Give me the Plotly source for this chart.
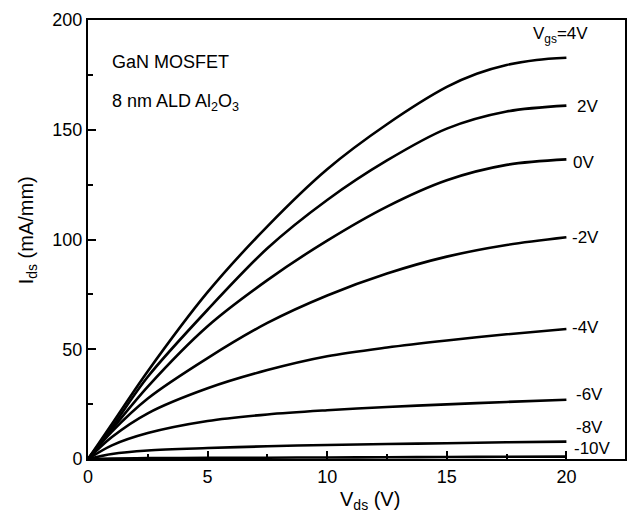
import plotly.graph_objects as go

vds = [0, 1, 2.5, 5, 7.5, 10, 12.5, 15, 17.5, 20]
vds_4 = [0, 1, 2.5, 5, 7.5, 10, 12.5, 15, 16.25, 17.5, 18.75, 20]
vgs_labels = ["4V", "2V", "0V", "-2V", "-4V", "-6V", "-8V", "-10V"]
ids_4 = [0, 16, 40, 76, 106, 132, 152.5, 169.5, 175.5, 179.5, 181.8, 182.8]
ids_2 = [0, 14.5, 37.5, 68, 96, 118, 136, 150.5, 158.3, 161]
ids_0 = [0, 13.5, 33, 60.5, 81.5, 99.5, 115, 127, 134, 136.5]
ids_m2 = [0, 12.5, 27.6, 46, 62, 74.5, 84.5, 92.2, 97.5, 101]
ids_m4 = [0, 10, 20.8, 32.2, 40.5, 46.8, 50.8, 54, 56.8, 59.2]
ids_m6 = [0, 6.2, 11.8, 17.3, 20.3, 22.2, 23.7, 24.9, 26, 27]
ids_m8 = [0, 2.3, 3.9, 5, 5.8, 6.4, 6.8, 7.2, 7.6, 7.9]
ids_m10 = [0, 0.2, 0.4, 0.5, 0.6, 0.7, 0.8, 0.9, 1.0, 1.1]
series = [(vds_4, ids_4), (vds, ids_2), (vds, ids_0), (vds, ids_m2), (vds, ids_m4),
          (vds, ids_m6), (vds, ids_m8), (vds, ids_m10)]

# label placement (data coords)
label_pos = [(18.54, 193.2), (20.35, 160.8), (20.2, 135.3), (20.15, 101), (20.17, 59.7),
             (20.3, 29.2), (20.3, 14.3), (20.25, 4.6)]

FONT = "Liberation Sans, Arial, sans-serif"
fig = go.Figure()
for xs, ys in series:
    fig.add_trace(go.Scatter(x=xs, y=ys, mode="lines",
                             line=dict(color="black", width=2.6, shape="spline", smoothing=0.9),
                             showlegend=False, hoverinfo="skip"))

for lab, (lx, ly) in zip(vgs_labels, label_pos):
    text = "V<sub>gs</sub>=" + lab if lab == "4V" else lab
    fig.add_annotation(x=lx, y=ly, text=text, xref="x", yref="y", xanchor="left",
                       yanchor="middle", showarrow=False, font=dict(family=FONT, size=17, color="black"))

fig.add_annotation(x=0.92, y=181, text="GaN MOSFET", xref="x", yref="y", xanchor="left",
                   yanchor="middle", showarrow=False, font=dict(family=FONT, size=18, color="black"))
fig.add_annotation(x=0.92, y=162.5, text="8 nm ALD Al<sub>2</sub>O<sub>3</sub>", xref="x", yref="y", xanchor="left",
                   yanchor="middle", showarrow=False, font=dict(family=FONT, size=18, color="black"))

# axis titles
fig.add_annotation(x=0.525, y=-0.0934, xref="paper", yref="paper", text="V<sub>ds</sub> (V)",
                   xanchor="center", yanchor="middle", showarrow=False,
                   font=dict(family=FONT, size=20, color="black"))
fig.add_annotation(x=-0.113, y=0.5216, xref="paper", yref="paper", text="I<sub>ds</sub> (mA/mm)",
                   textangle=-90, xanchor="center", yanchor="middle", showarrow=False,
                   font=dict(family=FONT, size=20, color="black"))

axis_common = dict(showline=True, linecolor="black", linewidth=2, mirror=True,
                   ticks="inside", tickcolor="black", tickwidth=1.5, ticklen=8,
                   showgrid=False, zeroline=False,
                   tickfont=dict(family=FONT, size=18, color="black"))
fig.update_xaxes(range=[0, 22.45], tickvals=[0, 5, 10, 15, 20],
                 minor=dict(tickvals=[2.5, 7.5, 12.5, 17.5], ticks="inside", ticklen=5, tickcolor="black", tickwidth=1.5),
                 **axis_common)
fig.update_yaxes(range=[0, 200], tickvals=[0, 50, 100, 150, 200],
                 minor=dict(tickvals=[25, 75, 125, 175], ticks="inside", ticklen=5, tickcolor="black", tickwidth=1.5),
                 **axis_common)
fig.update_layout(width=632, height=514, margin=dict(l=88, r=5, t=20, b=55),
                  plot_bgcolor="white", paper_bgcolor="white")

post = ("document.body.style.margin='0';document.body.style.padding='0';"
        "document.body.style.overflow='hidden';"
        "Plotly.relayout('{plot_id}', {width:632, height:514});")
fig.write_html("out.html", config={"responsive": False, "displayModeBar": False}, post_script=post)
